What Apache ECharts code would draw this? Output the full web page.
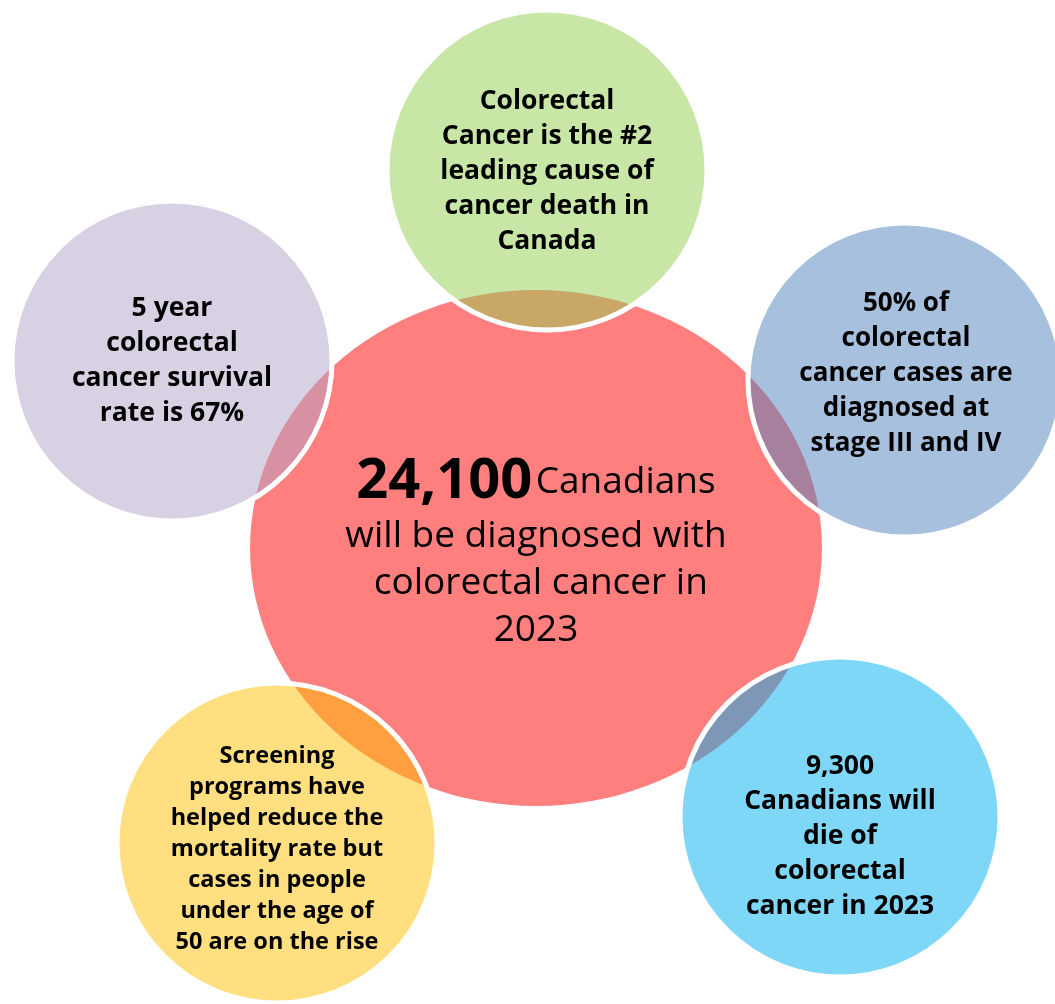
<!DOCTYPE html>
<html>
<head>
<meta charset="utf-8">
<script src="https://cdn.jsdelivr.net/npm/echarts@6/dist/echarts.min.js"></script>
<style>
html,body{margin:0;padding:0;background:#fff;}
#chart{width:1055px;height:1004px;}
</style>
</head>
<body>
<div id="chart"></div>
<script>
// Diagram content
var bubbleNames = ['top', 'left', 'right', 'bottomRight', 'bottomLeft'];
var bubbleTexts = [
  ['Colorectal', 'Cancer is the #2', 'leading cause of', 'cancer death in', 'Canada'],
  ['5 year', 'colorectal', 'cancer survival', 'rate is 67%'],
  ['50% of', 'colorectal', 'cancer cases are', 'diagnosed at', 'stage III and IV'],
  ['9,300', 'Canadians will', 'die of', 'colorectal', 'cancer in 2023'],
  ['Screening', 'programs have', 'helped reduce the', 'mortality rate but', 'cases in people', 'under the age of', '50 are on the rise']
];
var bubbleColors = ['rgba(146,208,80,0.5)', 'rgba(178,161,199,0.5)', 'rgba(79,129,189,0.5)', 'rgba(0,176,240,0.5)', 'rgba(255,192,0,0.5)'];
// circle centres and radii (diagram layout, in px units of the hidden axes)
var bubbleX = [547, 172, 905, 840, 277];
var bubbleY = [170, 361, 380, 817, 843];
var bubbleR = [160, 160, 157, 160, 160];

var centerNumber = '24,100';
var centerLines = ['Canadians', 'will be diagnosed with', ' colorectal cancer in', '2023'];
var centerX = 536, centerY = 548, centerRX = 286, centerRY = 258;

var chart = echarts.init(document.getElementById('chart'));

var labelOffsets = [[0, 1], [0, 0], [1, -6], [0, 19], [0, 6]];
var fontSizes = [26.5, 26.5, 26, 26.5, 23.5];
var lineHeights = [35, 35, 35, 35, 31];

var bubbleData = bubbleNames.map(function (n, i) {
  return {
    name: n,
    value: [bubbleX[i], bubbleY[i], bubbleR[i], bubbleR[i]],
    itemStyle: { color: bubbleColors[i] },
    label: {
      formatter: bubbleTexts[i].join('\n'),
      offset: labelOffsets[i],
      fontSize: fontSizes[i],
      lineHeight: lineHeights[i]
    }
  };
});

chart.setOption({
  animation: false,
  grid: { left: 0, right: 0, top: 0, bottom: 0 },
  xAxis: { type: 'value', min: 0, max: 1055, show: false },
  yAxis: { type: 'value', min: 0, max: 1004, inverse: true, show: false },
  series: [
    {
      type: 'scatter',
      clip: false,
      z: 1,
      symbol: 'circle',
      symbolSize: function (v) { return [v[2] * 2, v[3] * 2]; },
      itemStyle: { color: 'rgba(255,0,0,0.5)', borderWidth: 0, opacity: 1 },
      label: {
        show: true,
        position: 'inside',
        offset: [0, 5],
        align: 'center',
        formatter: function () {
          return '{b|' + centerNumber + '} {r|' + centerLines[0] + '}\n' +
            centerLines.slice(1).map(function (l) { return '{r|' + l + '}'; }).join('\n');
        },
        rich: {
          b: { fontFamily: 'Open Sans', fontWeight: 'bold', fontSize: 56, lineHeight: 61, color: '#000' },
          r: { fontFamily: 'Open Sans', fontWeight: 'normal', fontSize: 37, lineHeight: 47, color: '#000' }
        }
      },
      emphasis: { disabled: true },
      data: [{ name: 'center', value: [centerX, centerY, centerRX, centerRY] }]
    },
    {
      type: 'scatter',
      clip: false,
      z: 2,
      symbol: 'circle',
      symbolSize: function (v) { return [v[2] * 2, v[3] * 2]; },
      itemStyle: { borderColor: '#ffffff', borderWidth: 5, opacity: 1 },
      label: {
        show: true,
        position: 'inside',
        align: 'center',
        color: '#000',
        fontFamily: 'Open Sans',
        fontWeight: 'bold'
      },
      emphasis: { disabled: true },
      data: bubbleData
    }
  ]
});
</script>
</body>
</html>
